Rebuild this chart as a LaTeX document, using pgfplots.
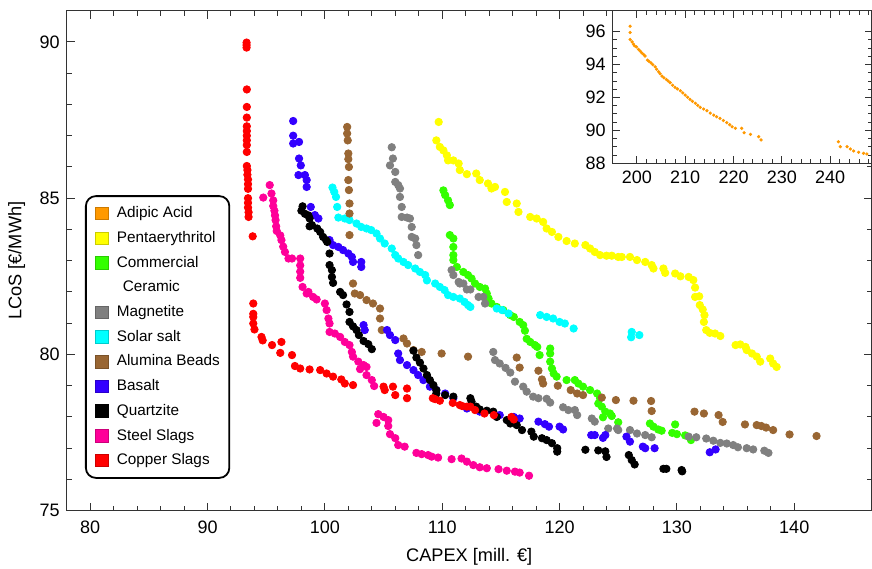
\documentclass[border=0pt]{standalone}
\usepackage{fontspec}
\setmainfont{Liberation Sans}
\usepackage{pgfplots}
\pgfplotsset{compat=1.18}
\definecolor{cAdi}{HTML}{FF9900}
\definecolor{cPen}{HTML}{FFFF00}
\definecolor{cCer}{HTML}{33FF00}
\definecolor{cMag}{HTML}{808080}
\definecolor{cSol}{HTML}{00FFFF}
\definecolor{cAlu}{HTML}{996633}
\definecolor{cBas}{HTML}{3300FF}
\definecolor{cQua}{HTML}{000000}
\definecolor{cSte}{HTML}{FF0099}
\definecolor{cCop}{HTML}{FF0000}
\pgfplotsset{
  sq/.style={legend image code/.code={\draw[sharp corners,line width=0.4pt,draw=#1!80!black,fill=#1] (0pt,-3.15pt) rectangle (6.3pt,3.15pt); \path (-1.8pt,0pt) (8.1pt,0pt);}},
  dots/.style={only marks, mark=*, mark size=1.85pt, color=#1, mark options={draw=none, fill=#1}, forget plot},
}
\begin{document}
\begin{tikzpicture}
\useasboundingbox (0,0) rectangle (436pt,284pt);
\begin{axis}[
  at={(33.35pt,28.65pt)}, anchor=south west,
  scale only axis, width=402.5pt, height=250pt,
  xmin=78, xmax=146.6, ymin=75, ymax=91,
  xtick={80,90,...,140}, ytick={75,80,85,90},
  minor x tick num=4, minor y tick num=4,
  tick align=inside, major tick length=4pt, minor tick length=2.5pt,
  axis line style={black!80, line width=0.6pt},
  every tick/.style={black!80, line width=0.5pt},
  /pgf/number format/assume math mode=true,
  ticklabel style={font=\fontsize{9}{10}\selectfont},
  xticklabel style={yshift=-1.5pt},
  label style={font=\fontsize{9.1}{10}\selectfont},
  xlabel={CAPEX [mill. €]}, ylabel={LCoS [€/MWh]},
  xlabel style={at={(axis description cs:0.5,-0.0926)}, anchor=center},
  ylabel style={at={(axis description cs:-0.062,0.5)}, anchor=center},
  legend cell align=left,
  legend style={at={(0.0227,0.631)}, anchor=north west, draw=black, line width=0.9pt,
    rounded corners=5pt, fill=white, font=\fontsize{7.66}{9}\selectfont,
    inner xsep=2.7pt, inner ysep=3pt, row sep=0.95pt,
    nodes={inner sep=2pt, text height=5.8pt, text depth=1.6pt}},
]
\addlegendimage{sq=cAdi}\addlegendentry{Adipic Acid}
\addlegendimage{sq=cPen}\addlegendentry{Pentaerythritol}
\addlegendimage{sq=cCer}\addlegendentry{Commercial}
\addlegendimage{empty legend}\addlegendentry{\hspace{3pt}Ceramic}
\addlegendimage{sq=cMag}\addlegendentry{Magnetite}
\addlegendimage{sq=cSol}\addlegendentry{Solar salt}
\addlegendimage{sq=cAlu}\addlegendentry{Alumina Beads}
\addlegendimage{sq=cBas}\addlegendentry{Basalt}
\addlegendimage{sq=cQua}\addlegendentry{Quartzite}
\addlegendimage{sq=cSte}\addlegendentry{Steel Slags}
\addlegendimage{sq=cCop}\addlegendentry{Copper Slags}

% Pentaerythritol
\addplot[dots=cPen] table {
109.7 87.44
109.5 86.85
109.8 86.64
110.1 86.53
110.4 86.37
110.5 86.21
110.95 86.21
111.4 86.11
111.5 85.9
112.1 85.77
112.9 85.79
113.2 85.58
113.9 85.47
114.2 85.31
114.5 85.36
115.35 85.2
115.5 84.88
116.35 84.83
116.5 84.56
117.5 84.4
118.05 84.35
118.6 84.24
118.9 84.03
119.35 83.92
119.9 83.76
120.6 83.63
121.3 83.55
122.2 83.5
122.6 83.39
123.0 83.28
123.45 83.18
124.0 83.16
124.45 83.16
125.0 83.12
125.3 83.12
126.0 83.12
126.6 83.02
127.3 82.96
127.85 82.86
128.0 82.75
128.85 82.75
129.0 82.61
129.85 82.59
130.3 82.5
131.0 82.48
131.4 82.38
131.55 82.14
131.55 81.84
131.9 81.86
131.95 81.58
132.2 81.44
132.35 81.26
132.3 81.04
132.5 80.78
132.8 80.69
133.25 80.67
133.7 80.59
135.0 80.3
135.4 80.32
135.85 80.24
135.95 80.14
136.4 80.03
136.8 79.93
137.1 79.77
137.95 79.87
138.2 79.71
138.5 79.6
};
% Commercial Ceramic
\addplot[dots=cCer] table {
110.1 85.25
110.25 85.1
110.5 84.93
110.65 84.78
110.65 83.82
110.95 83.71
110.95 83.44
110.95 83.18
110.95 83.02
111.25 82.8
111.8 82.64
112.2 82.54
112.5 82.43
112.8 82.27
113.2 82.16
113.65 82.11
113.8 81.95
113.95 81.79
114.2 81.63
114.65 81.52
115.2 81.42
115.8 81.26
116.1 81.2
116.6 81.04
116.9 80.94
117.05 80.76
117.2 80.5
117.5 80.4
117.9 80.3
118.1 80.24
118.3 79.98
119.2 80.19
119.2 80.03
119.2 79.77
119.35 79.55
119.5 79.39
119.75 79.29
120.6 79.18
121.3 79.18
121.6 79.07
122.0 78.97
122.6 78.86
123.2 78.75
123.45 78.6
123.3 78.43
123.6 78.33
123.9 78.17
124.3 78.11
124.45 78.03
123.7 77.99
125.0 77.83
127.7 77.79
128.0 77.69
128.4 77.6
128.7 77.56
129.6 77.49
129.85 77.76
130.0 77.45
130.7 77.41
131.2 77.26
};
% Magnetite
\addplot[dots=cMag] table {
105.7 86.63
105.8 86.27
105.55 86.05
106.0 85.84
106.0 85.52
106.25 85.42
106.4 85.31
106.4 85.04
106.55 84.72
106.55 84.4
107.0 84.38
107.25 84.35
107.4 84.08
107.4 83.76
107.7 83.71
107.8 83.5
107.95 83.18
110.8 82.7
110.95 82.54
111.4 82.32
111.5 82.27
111.8 82.27
112.1 82.08
112.4 82.08
113.1 81.84
113.5 81.84
113.65 81.63
114.35 80.08
114.5 79.82
114.9 79.71
115.4 79.57
115.8 79.42
116.2 79.13
116.9 78.97
117.2 78.81
117.75 78.65
118.2 78.6
118.9 78.58
119.2 78.46
120.3 78.31
120.75 78.22
121.3 78.22
121.5 78.06
122.75 77.95
123.0 77.85
124.15 77.63
124.9 77.63
125.0 77.58
126.0 77.58
126.6 77.47
127.3 77.42
127.85 77.35
131.0 77.37
131.65 77.35
132.5 77.31
133.1 77.24
133.7 77.17
134.25 77.15
134.8 77.1
135.2 77.03
135.95 77.0
136.5 76.96
137.45 76.92
137.8 76.85
};
% Solar salt
\addplot[dots=cSol] table {
100.65 85.34
100.8 85.2
100.95 85.04
101.05 84.72
101.15 84.38
101.7 84.35
102.1 84.3
102.7 84.19
103.1 84.08
103.55 84.03
103.95 83.98
104.4 83.87
104.7 83.71
105.1 83.55
105.7 83.39
106.0 83.18
106.25 83.07
106.7 82.96
107.1 82.86
107.7 82.75
108.1 82.64
108.55 82.54
108.7 82.37
109.4 82.27
109.8 82.16
110.2 82.06
110.5 81.9
110.95 81.84
111.5 81.79
111.9 81.68
112.2 81.58
112.4 81.52
114.65 81.47
115.1 81.42
115.65 81.31
118.35 81.26
118.9 81.2
119.45 81.15
120.0 81.04
120.45 80.99
121.2 80.83
126.15 80.72
126.1 80.55
126.8 80.62
};
% Alumina Beads
\addplot[dots=cAlu] table {
101.9 87.28
101.9 87.07
101.95 86.85
102.0 86.43
102.0 86.25
102.05 86.0
102.0 85.58
102.05 85.26
102.1 84.83
102.1 84.51
102.1 83.82
102.4 82.27
102.55 81.95
103.0 81.9
103.55 81.74
104.1 81.63
104.7 81.47
104.7 81.15
104.85 80.78
106.7 80.51
107.0 80.35
107.55 80.14
108.25 80.08
109.95 80.03
112.2 79.93
116.35 79.9
116.6 79.58
118.2 79.48
118.5 79.2
118.6 79.07
119.85 79.0
120.95 78.86
121.5 78.75
122.0 78.7
123.6 78.62
124.8 78.54
126.3 78.52
127.8 78.51
127.85 78.19
131.5 78.17
132.3 78.11
133.55 78.06
133.9 77.84
135.8 77.76
136.8 77.74
137.2 77.71
137.6 77.66
138.2 77.58
139.6 77.44
141.9 77.39
};
% Basalt
\addplot[dots=cBas] table {
97.3 87.47
97.3 87.0
97.3 86.75
97.8 86.8
97.8 86.27
97.95 86.05
97.75 85.74
98.3 85.74
98.45 85.58
98.45 85.36
98.8 84.72
99.15 84.46
99.45 84.35
100.4 83.66
100.7 83.5
101.15 83.44
101.55 83.34
102.0 83.23
102.3 83.12
102.4 82.96
103.1 82.96
103.1 82.8
103.3 80.94
103.4 80.78
105.3 80.78
105.55 80.62
106.0 80.46
106.25 80.03
106.4 79.82
107.0 79.66
107.55 79.5
107.95 79.34
108.4 79.18
108.95 78.97
109.5 78.86
110.25 78.75
110.95 78.6
112.1 78.27
113.2 78.17
114.9 78.06
116.1 78.0
116.6 77.95
118.2 77.85
118.75 77.77
119.1 77.69
120.0 77.69
120.3 77.6
122.7 77.42
123.0 77.42
123.7 77.33
123.9 77.42
125.7 77.37
126.0 77.21
127.1 77.05
127.3 77.0
128.1 77.0
132.8 76.87
133.3 76.96
};
% Quartzite
\addplot[dots=cQua] table {
98.1 84.74
98.0 84.6
98.3 84.5
98.6 84.45
98.7 84.35
98.9 84.14
98.7 84.1
99.35 84.03
99.6 83.92
99.85 83.76
100.1 83.66
100.2 83.6
100.4 83.23
100.4 82.86
100.6 82.7
100.6 82.48
100.7 82.29
101.3 82.0
101.55 81.9
101.85 81.6
102.1 81.36
102.1 81.04
102.4 80.9
102.7 80.78
102.9 80.62
103.3 80.43
103.7 80.33
104.0 80.17
107.55 80.12
107.8 79.9
108.1 79.74
108.4 79.55
108.7 79.34
108.95 79.18
109.25 79.02
109.5 78.86
109.5 78.75
110.25 78.7
110.95 78.65
112.4 78.6
112.5 78.49
112.9 78.33
113.2 78.24
113.8 78.2
114.35 78.17
114.65 78.0
115.5 77.9
115.8 77.79
116.35 77.74
116.8 77.58
117.6 77.53
117.8 77.37
118.5 77.32
118.9 77.26
119.35 77.16
119.8 77.0
119.8 76.89
122.2 76.95
123.3 76.93
123.9 76.9
124.0 76.72
125.9 76.78
126.15 76.62
126.4 76.48
128.85 76.34
129.1 76.34
130.4 76.3
130.45 76.26
};
% Steel Slags
\addplot[dots=cSte] table {
94.75 85.02
95.3 85.42
95.45 85.15
95.6 84.93
95.6 84.75
95.7 84.6
95.75 84.45
95.8 84.3
95.85 84.1
95.9 83.95
96.2 83.81
96.3 83.66
96.45 83.45
96.6 83.28
96.9 83.07
97.2 83.07
97.9 83.07
97.9 82.85
97.9 82.65
97.9 82.45
98.1 82.16
98.45 81.95
98.6 82.0
99.0 81.84
99.3 81.76
100.0 81.63
100.15 81.42
100.3 81.15
100.4 80.99
100.4 80.72
100.85 80.67
101.3 80.56
101.7 80.4
102.1 80.3
102.3 80.08
102.4 79.93
102.85 79.77
103.3 79.66
103.0 79.53
103.55 79.6
103.55 79.34
104.0 79.18
104.2 78.99
104.55 78.09
105.0 78.0
104.4 77.81
105.4 77.9
105.4 77.71
105.55 77.45
106.0 77.32
106.25 77.1
106.8 77.05
107.8 76.85
108.25 76.81
108.8 76.78
109.1 76.73
109.65 76.7
110.8 76.65
111.65 76.67
112.1 76.57
112.65 76.46
113.2 76.39
113.8 76.36
114.8 76.33
115.5 76.28
116.2 76.25
116.6 76.22
117.4 76.12
};
% Copper Slags
\addplot[dots=cCop] table {
93.33 89.98
93.33 89.9
93.33 89.82
93.35 88.48
93.35 87.92
93.35 87.58
93.35 87.3
93.35 87.15
93.35 87.0
93.35 86.85
93.35 86.7
93.35 86.48
93.35 86.03
93.4 85.9
93.4 85.75
93.45 85.6
93.45 85.45
93.45 85.3
93.45 85.0
93.45 84.85
93.45 84.7
93.5 84.55
93.5 84.4
93.85 83.78
93.9 81.63
93.9 81.3
93.9 81.2
93.9 80.99
94.0 80.8
94.6 80.56
94.7 80.45
95.5 80.3
96.3 80.4
96.2 80.05
97.2 79.98
97.45 79.63
97.9 79.55
98.7 79.52
99.6 79.5
100.15 79.39
100.7 79.29
101.4 79.2
101.7 79.07
102.4 79.02
105.0 78.97
105.1 78.86
105.8 78.97
106.0 78.7
107.0 78.91
107.0 78.6
109.2 78.6
109.4 78.57
109.8 78.52
110.9 78.45
111.5 78.38
111.7 78.35
112.1 78.33
112.4 78.33
112.8 78.22
113.6 78.11
114.4 78.06
115.9 78.0
116.1 77.92
};
\end{axis}

\begin{axis}[
  at={(306.35pt,202.35pt)}, anchor=south west,
  scale only axis, width=129.5pt, height=76.3pt,
  xmin=195, xmax=248.6, ymin=88, ymax=97.28,
  xtick={200,210,...,250}, ytick={88,90,...,96},
  minor x tick num=4, minor y tick num=3,
  tick align=inside, major tick length=3.5pt, minor tick length=2pt,
  axis background/.style={fill=white},
  axis line style={black!80, line width=0.6pt},
  every tick/.style={black!80, line width=0.5pt},
  /pgf/number format/assume math mode=true,
  ticklabel style={font=\fontsize{9}{10}\selectfont},
  xticklabel style={yshift=-0.5pt},
]
\addplot[only marks, mark=*, mark size=0.6pt, color=cAdi, mark options={draw=none, fill=cAdi}] table {
198.6 96.34
198.6 95.96
198.6 95.53
199.0 95.39
199.3 95.25
199.5 95.15
199.9 95.08
200.35 94.93
200.7 94.82
201.0 94.72
201.4 94.62
201.7 94.52
202.2 94.28
202.5 94.2
202.9 94.11
203.3 94.0
203.8 93.87
204.1 93.72
204.5 93.57
204.8 93.45
205.2 93.3
205.6 93.2
206.1 93.1
206.5 93.0
206.9 92.9
207.4 92.75
207.9 92.62
208.4 92.52
209.0 92.41
209.5 92.28
210.0 92.15
210.5 92.02
211.0 91.89
211.5 91.77
212.1 91.65
212.6 91.52
213.1 91.4
213.8 91.3
214.5 91.2
215.2 91.05
215.9 90.93
216.5 90.83
217.2 90.73
217.9 90.6
218.6 90.47
219.2 90.35
219.7 90.22
220.4 90.13
221.7 90.13
222.2 89.86
223.5 89.76
225.2 89.62
225.7 89.42
241.7 89.31
242.1 89.01
243.5 89.01
244.2 88.87
244.85 88.75
245.9 88.67
246.9 88.61
247.6 88.57
};
\end{axis}
\end{tikzpicture}
\end{document}
